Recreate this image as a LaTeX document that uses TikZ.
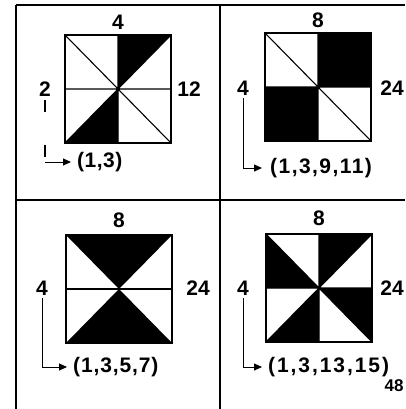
\documentclass[tikz,border=0pt]{standalone}
\usepackage{fontspec}
\setmainfont{Liberation Sans}
\usetikzlibrary{arrows.meta}
\newcommand\tupl[2]{{\addfontfeature{LetterSpace=#1}#2}}
\tikzset{
 lab/.style={font=\fontsize{21}{21}\selectfont\bfseries, inner sep=1pt},
 tup/.style={lab, anchor=west, inner sep=0pt},
 sq/.style={line width=1.5pt},
 ln/.style={line width=1.1pt},
 dark/.style={fill=black},
 arr/.style={line width=0.9pt, -{Triangle[length=8pt,width=7pt]}},
 frame/.style={line width=1.1pt}
}
\begin{document}
\begin{tikzpicture}[x=1pt,y=1pt]
\useasboundingbox (0,0) rectangle (405,-409);
% frame
\draw[frame] (16,-5) -- (405,-5);
\draw[frame] (16,-5) -- (16,-409);
\draw[frame] (220,-5) -- (220,-409);
\draw[frame] (16,-200) -- (405,-200);

% panel 1
\begin{scope}[shift={(118,-89)}]
\fill[dark] (0,0)--(0,54)--(53,54)--cycle;
\fill[dark] (0,0)--(0,-54)--(-53,-54)--cycle;
\draw[ln] (-53,0)--(53,0) (0,-54)--(0,54) (-53,54)--(53,-54) (-53,-54)--(53,54);
\draw[sq] (-53,-54) rectangle (53,54);
\end{scope}
\node[lab] (t1) at (118,-22) {4};
\node[lab] (l1) at (45,-89) {2};
\node[lab] (r1) at (189,-89) {12};
\node[tup] (u1) at (77,-162) {\tupl{2.4}{(1,3)}};
\draw[ln, dash pattern=on 12pt off 33pt] ([yshift=-2pt]l1.south) -- (l1.south |- u1.west) coordinate (k1);
\draw[arr] (k1) -- ([xshift=-6pt]u1.west);

% panel 2
\begin{scope}[shift={(318,-87)}]
\fill[dark] (0,0) rectangle (53,54);
\fill[dark] (0,0) rectangle (-53,-54);
\draw[ln] (-53,0)--(53,0) (0,-54)--(0,54) (-53,54)--(53,-54);
\draw[sq] (-53,-54) rectangle (53,54);
\end{scope}
\node[lab] (t2) at (318,-20) {8};
\node[lab] (l2) at (243,-88) {4};
\node[lab] (r2) at (392,-88) {24};
\node[tup] (u2) at (270,-168) {\tupl{6.9}{(1,3,9,11)}};
\draw[arr] ([yshift=-2pt]l2.south) |- ([xshift=-8pt]u2.west);

% panel 3
\begin{scope}[shift={(119,-289)}]
\fill[dark] (-53,54)--(53,54)--(0,0)--cycle;
\fill[dark] (-53,-54)--(53,-54)--(0,0)--cycle;
\draw[ln] (-53,0)--(53,0);
\draw[sq] (-53,-54) rectangle (53,54);
\end{scope}
\node[lab] (t3) at (119,-220) {8};
\node[lab] (l3) at (42,-288) {4};
\node[lab] (r3) at (198,-288) {24};
\node[tup] (u3) at (73,-367) {\tupl{4.2}{(1,3,5,7)}};
\draw[arr] ([yshift=-2pt]l3.south) |- ([xshift=-6pt]u3.west);

% panel 4
\begin{scope}[shift={(319,-288)}]
\fill[dark] (-53,54)--(0,0)--(-53,0)--cycle;
\fill[dark] (0,54)--(53,54)--(0,0)--cycle;
\fill[dark] (0,0)--(53,0)--(53,-54)--cycle;
\fill[dark] (0,0)--(0,-54)--(-53,-54)--cycle;
\draw[ln] (-53,0)--(53,0) (0,-54)--(0,54) (-53,54)--(53,-54) (-53,-54)--(53,54);
\draw[sq] (-53,-54) rectangle (53,54);
\end{scope}
\node[lab] (t4) at (319,-218) {8};
\node[lab] (l4) at (243,-288) {4};
\node[lab] (r4) at (392,-288) {24};
\node[tup] (u4) at (268,-367) {\tupl{9.2}{(1,3,13,15)}};
\draw[arr] ([yshift=-2pt]l4.south) |- ([xshift=-6pt]u4.west);
\node[lab, font=\fontsize{17}{17}\selectfont\bfseries] (n48) at (394,-386) {48};
\end{tikzpicture}
\end{document}
